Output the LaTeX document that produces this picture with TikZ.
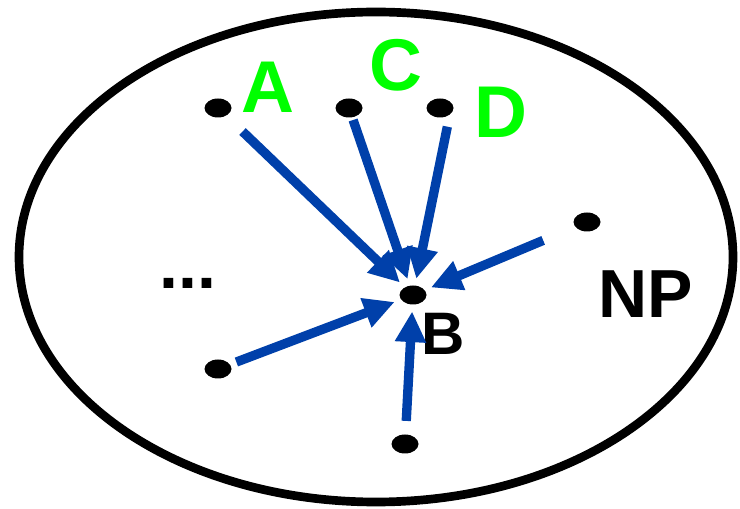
\documentclass[tikz,border=0pt]{standalone}
\usepackage{fontspec}
\setmainfont{Liberation Sans}
\usetikzlibrary{arrows.meta,shapes.geometric}
\definecolor{arrblue}{RGB}{0,64,170}
\definecolor{lblgreen}{RGB}{0,255,0}

\begin{document}
\begin{tikzpicture}[
  x=0.75pt, y=-0.75pt,
  vtx/.style={ellipse, fill=black, minimum width=20.25pt, minimum height=14.25pt, inner sep=0pt},
  lbl/.style={inner sep=0pt, font=\fontsize{55}{60}\selectfont\bfseries, text=lblgreen},
  blk/.style={inner sep=0pt, font=\fontsize{51}{56}\selectfont\bfseries},
  arr/.style={-{Triangle[length=23pt,width=22pt]}, line width=7pt, draw=arrblue, shorten >=5pt}
]
\useasboundingbox (0,0) rectangle (740,509);

% the set NP
\draw[line width=6.5pt] (376,257) ellipse [x radius=357, y radius=245];

% members of NP
\node[vtx] (dotA) at (218,108) {};
\node[vtx] (dotC) at (349,108) {};
\node[vtx] (dotD) at (440,108) {};
\node[vtx] (dotR) at (587,222) {};
\node[vtx] (b)    at (413,295) {};
\node[vtx] (dotL) at (218,369) {};
\node[vtx] (dotS) at (405,444) {};

\node[lbl] (a)  at (268,87)  {A};
\node[lbl] (c)  at (396,65)  {C};
\node[lbl] (d)  at (501,112) {D};
\node[blk, font=\fontsize{45}{50}\selectfont\bfseries] (blbl) at (443,334) {B};
\node[blk] (np) at (646,294) {NP};
\node[blk] (more) at (188,283) {...};

% reductions to B
\draw[arr, shorten <=17pt] (dotA) -- (b);
\draw[arr, shorten <=2pt]  (dotC) -- (b);
\draw[arr, shorten <=9pt]  (dotD.south east) -- (b);
\draw[arr, shorten <=26pt] (dotR) -- (b);
\draw[arr, shorten <=5pt]  (dotL) -- (b);
\draw[arr, shorten <=10pt] (dotS) -- (b);
\end{tikzpicture}
\end{document}
